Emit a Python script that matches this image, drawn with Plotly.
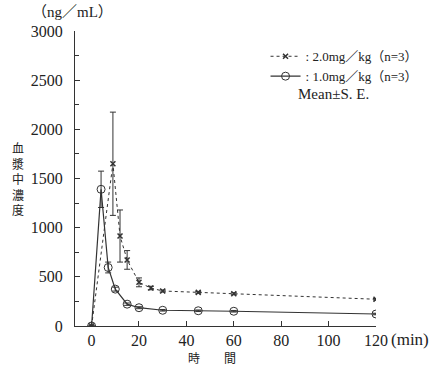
import plotly.graph_objects as go

# time (min)
t_low = [0, 4, 7, 10, 15, 20, 30, 45, 60, 120]
c_low = [0, 1390, 595, 375, 222, 186, 160, 155, 150, 122]
e_low = [0, 185, 55, 20, 12, 10, 8, 8, 8, 8]

t_high = [0, 9, 12, 15, 20, 25, 30, 45, 60, 120]
c_high = [0, 1650, 915, 672, 444, 386, 356, 342, 328, 272]
e_high = [0, 525, 265, 95, 45, 18, 10, 8, 10, 8]

name_high = ": 2.0mg／kg（n=3）"
name_low = ": 1.0mg／kg（n=3）"

xticks = [0, 20, 40, 60, 80, 100, 120]
yticks = [0, 500, 1000, 1500, 2000, 2500, 3000]

FONT = "Liberation Serif, Noto Sans CJK JP, serif"
CJK = "Noto Sans CJK JP"
INK = "#333333"
TXT = "#222222"

fig = go.Figure()
fig.add_trace(go.Scatter(
    x=t_high, y=c_high, name=name_high, mode="lines+markers",
    line=dict(color=INK, width=1, dash="dot"),
    marker=dict(symbol="x-thin-open", size=5, color=INK, line=dict(color=INK, width=1.5)),
    error_y=dict(type="data", array=e_high, color=INK, thickness=1, width=3),
))
fig.add_trace(go.Scatter(
    x=t_low, y=c_low, name=name_low, mode="lines+markers",
    line=dict(color=INK, width=1.2),
    marker=dict(symbol="circle-open", size=8, color=INK, line=dict(color=INK, width=1)),
    error_y=dict(type="data", array=e_low, color=INK, thickness=1, width=3),
))

fig.update_layout(
    template="none",
    width=431, height=368,
    margin=dict(l=75, r=55, t=31, b=42, autoexpand=False),
    paper_bgcolor="white", plot_bgcolor="white",
    font=dict(family=FONT, size=16, color=TXT),
    showlegend=True,
    legend=dict(x=0.633, y=0.965, xanchor="left", yanchor="top",
                font=dict(size=13, color=TXT), bgcolor="rgba(0,0,0,0)",
                borderwidth=0, tracegroupgap=0, itemwidth=30),
    xaxis=dict(range=[-7, 120], tickvals=xticks, ticks="inside", ticklen=5,
               tickcolor=INK, showline=True, linecolor=INK, linewidth=1,
               showgrid=False, zeroline=False, automargin=False,
               tickfont=dict(size=16, color=TXT)),
    yaxis=dict(range=[0, 3000], tickvals=yticks, ticks="inside", ticklen=5,
               tickcolor=INK, showline=True, linecolor=INK, linewidth=1,
               showgrid=False, zeroline=False, automargin=False,
               ticklabelstandoff=8,
               tickfont=dict(size=16, color=TXT),
               minor=dict(dtick=250, ticks="inside", ticklen=4, tickcolor=INK)),
    annotations=[
        dict(text="（ng／mL）", xref="paper", yref="paper", x=-0.15, y=1.0,
             yshift=19, xanchor="left", yanchor="middle", showarrow=False,
             font=dict(size=15, color=TXT)),
        dict(text="血<br>漿<br>中<br>濃<br>度", xref="paper", yref="paper",
             x=-0.19, y=0.5, xanchor="center", yanchor="middle", showarrow=False,
             font=dict(family=CJK, size=12, color=TXT)),
        dict(text="時　　間", xref="paper", yref="paper", x=0.455, y=0,
             yshift=-31, xanchor="center", yanchor="middle", showarrow=False,
             font=dict(family=CJK, size=12, color=TXT)),
        dict(text="(min)", xref="paper", yref="paper", x=1.0, y=0,
             xshift=13, yshift=-13, xanchor="left", yanchor="middle", showarrow=False,
             font=dict(size=17, color=TXT)),
        dict(text="Mean±S. E.", xref="paper", yref="paper", x=0.86, y=0.787,
             xanchor="center", yanchor="middle", showarrow=False,
             font=dict(size=15, color=TXT)),
    ],
)

fig.write_html(
    "out.html",
    config={"displayModeBar": False},
    post_script="document.documentElement.style.margin='0';"
                "document.body.style.margin='0';"
                "document.body.style.overflow='hidden';",
)
